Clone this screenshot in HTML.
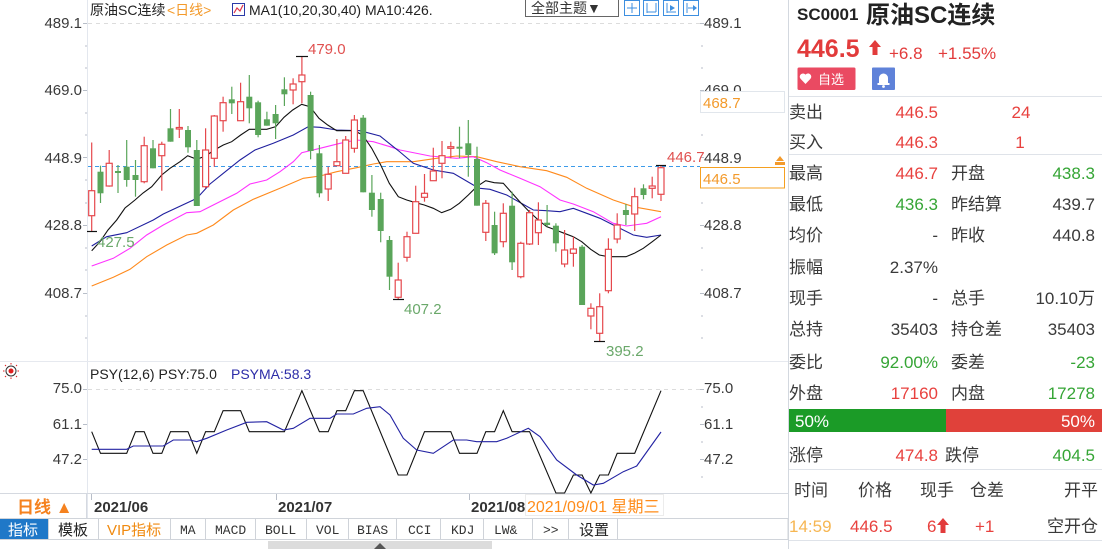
<!DOCTYPE html>
<html><head><meta charset="utf-8">
<style>
html,body{margin:0;padding:0;background:#fff;}
body{width:1107px;height:549px;overflow:hidden;position:relative;}
svg{position:absolute;left:0;top:0;}
text{font-family:"Liberation Sans","Noto Sans CJK SC",sans-serif;}
</style></head>
<body>
<svg width="1107" height="549" viewBox="0 0 1107 549" xmlns="http://www.w3.org/2000/svg">
<!-- structural lines -->
<line x1="87.5" y1="0" x2="87.5" y2="518" stroke="#e3e7ee"/>
<line x1="0" y1="361.5" x2="788" y2="361.5" stroke="#e6e9ef"/>
<line x1="0" y1="493.5" x2="788" y2="493.5" stroke="#d5d9e0"/>
<line x1="86.5" y1="493" x2="86.5" y2="518" stroke="#d5d9e0"/>
<line x1="788.5" y1="0" x2="788.5" y2="549" stroke="#d3d8df"/>
<!-- dashed grids -->
<line x1="88" y1="23.5" x2="700" y2="23.5" stroke="#dcdcdc" stroke-dasharray="4,4"/>
<line x1="88" y1="389.5" x2="700" y2="389.5" stroke="#dcdcdc" stroke-dasharray="4,4"/>
<!-- axis ticks -->
<g stroke="#b8bec8">
<line x1="83" y1="23.5" x2="87" y2="23.5"/><line x1="83" y1="90.5" x2="87" y2="90.5"/><line x1="83" y1="157.5" x2="87" y2="157.5"/><line x1="83" y1="225.5" x2="87" y2="225.5"/><line x1="83" y1="293.5" x2="87" y2="293.5"/>
<line x1="85" y1="46" x2="87" y2="46"/><line x1="85" y1="68" x2="87" y2="68"/><line x1="85" y1="113" x2="87" y2="113"/><line x1="85" y1="135" x2="87" y2="135"/><line x1="85" y1="180" x2="87" y2="180"/><line x1="85" y1="203" x2="87" y2="203"/><line x1="85" y1="248" x2="87" y2="248"/><line x1="85" y1="270" x2="87" y2="270"/><line x1="85" y1="316" x2="87" y2="316"/><line x1="85" y1="338" x2="87" y2="338"/>
<line x1="700" y1="23.5" x2="704" y2="23.5"/><line x1="700" y1="90.5" x2="704" y2="90.5"/><line x1="700" y1="157.5" x2="704" y2="157.5"/><line x1="700" y1="225.5" x2="704" y2="225.5"/><line x1="700" y1="293.5" x2="704" y2="293.5"/>
<line x1="701" y1="46" x2="703" y2="46"/><line x1="701" y1="68" x2="703" y2="68"/><line x1="701" y1="135" x2="703" y2="135"/><line x1="701" y1="203" x2="703" y2="203"/><line x1="701" y1="248" x2="703" y2="248"/><line x1="701" y1="270" x2="703" y2="270"/><line x1="701" y1="316" x2="703" y2="316"/><line x1="701" y1="338" x2="703" y2="338"/>
<line x1="83" y1="389.5" x2="87" y2="389.5"/><line x1="83" y1="424.5" x2="87" y2="424.5"/><line x1="83" y1="459.5" x2="87" y2="459.5"/>
<line x1="700" y1="389.5" x2="704" y2="389.5"/><line x1="700" y1="424.5" x2="704" y2="424.5"/><line x1="700" y1="459.5" x2="704" y2="459.5"/>
<line x1="701" y1="407" x2="703" y2="407"/><line x1="701" y1="442" x2="703" y2="442"/><line x1="701" y1="477" x2="703" y2="477"/>
<line x1="91.5" y1="494" x2="91.5" y2="500"/><line x1="276.5" y1="494" x2="276.5" y2="500"/><line x1="469.5" y1="494" x2="469.5" y2="500"/>
</g>

<!-- header -->
<text x="90" y="15" font-size="14" fill="#222">原油SC连续</text>
<text x="167" y="15" font-size="14" fill="#f39a2b">&lt;日线&gt;</text>
<rect x="232.5" y="3.5" width="12" height="12" fill="#fff" stroke="#2b3aa8"/>
<polyline points="234,13 237,8 240,11 243,5" fill="none" stroke="#e0344a" stroke-width="1.2"/>
<text x="249" y="15" font-size="14" fill="#222">MA1(10,20,30,40) MA10:426.</text>
<rect x="525.5" y="-1.5" width="93" height="18" fill="#fff" stroke="#666"/>
<text x="531" y="13" font-size="14" fill="#333">全部主题▼</text>
<g fill="#fff" stroke="#3d8fe0">
<rect x="624.5" y="0.5" width="15" height="15"/><rect x="643.5" y="0.5" width="15" height="15"/><rect x="663.5" y="0.5" width="15" height="15"/><rect x="683.5" y="0.5" width="15" height="15"/>
</g>
<g stroke="#3d8fe0" fill="none">
<line x1="632" y1="3" x2="632" y2="13"/><line x1="627" y1="8" x2="637" y2="8"/>
<line x1="647" y1="3" x2="647" y2="13"/><line x1="647" y1="12" x2="656" y2="12"/><line x1="656" y1="3" x2="656" y2="12"/>
<line x1="667" y1="3" x2="667" y2="13"/><line x1="667" y1="12" x2="676" y2="12"/>
<line x1="687" y1="3" x2="687" y2="13"/><line x1="688" y1="8" x2="696" y2="8"/>
</g>
<polygon points="670,5 675,8 670,11" fill="#3d8fe0"/><polygon points="693,5 697,8 693,11" fill="#3d8fe0"/>

<!-- left axis labels -->
<g font-size="15" fill="#3a3a3a" text-anchor="end">
<text x="82" y="28">489.1</text><text x="82" y="95">469.0</text><text x="82" y="163">448.9</text><text x="82" y="230">428.8</text><text x="82" y="298">408.7</text>
<text x="82" y="393">75.0</text><text x="82" y="429">61.1</text><text x="82" y="464">47.2</text>
</g>
<!-- right axis labels -->
<g font-size="15" fill="#3a3a3a">
<text x="704" y="28">489.1</text><text x="704" y="95">469.0</text><text x="704" y="163">448.9</text><text x="704" y="230">428.8</text><text x="704" y="298">408.7</text>
<text x="704" y="393">75.0</text><text x="704" y="429">61.1</text><text x="704" y="464">47.2</text>
</g>
<rect x="700.5" y="91.5" width="84" height="21" fill="#fff" stroke="#e1e6ec"/>
<text x="703" y="108" font-size="15" fill="#f39a2b">468.7</text>
<rect x="700.5" y="167.5" width="84" height="20.5" fill="#fff" stroke="#f5a020"/>
<text x="703" y="184" font-size="15" fill="#f39a2b">446.5</text>
<polygon points="780,156 784,161 776,161" fill="#f39a2b"/><rect x="775" y="162" width="10" height="3" fill="#f39a2b"/>

<!-- current price dashed -->
<line x1="88" y1="166.5" x2="700" y2="166.5" stroke="#3d9be9" stroke-dasharray="4,3"/>

<!-- MA lines -->
<polyline fill="none" stroke="#ff8a1c" stroke-width="1.1" points="91.7,286 113.3,277.3 130,269.3 146.7,256.7 166.7,245 186.7,235 196.7,233.3 213.3,225 233.3,210 253.3,199.3 280,188.3 303.3,178.3 320,176 336.7,171.7 356.7,167.7 373.3,164 386.7,161.7 413.3,161.7 436.7,158.3 456.7,156 476.7,156.7 496.7,161.7 520,166.7 546.7,170.7 566.7,177.3 586.7,188.3 613.3,200 633.3,206.7 661,211.7"/>
<polyline fill="none" stroke="#ff33ff" stroke-width="1.1" points="91.7,266 113.3,258.3 130,248.3 146.7,235 163.3,225 186.7,212.7 200,211.7 213.3,205 236.7,193.3 250,184 266.7,180 280,171.7 293.3,161.7 301.7,152.7 320,148.3 340,143.3 356.7,140 373.3,141.7 390,146.7 400,150 430,156 456.7,158.3 473.3,156.7 486.7,162.7 500,170 520,178.3 540,186.7 560,200 573.3,204 593.3,211.7 613.3,223.3 626.7,226 646.7,223.3 661,216.7"/>
<polyline fill="none" stroke="#1f1f9e" stroke-width="1.1" points="91.7,246 106.7,236.7 126.7,232.7 153.3,220 163.3,214 193.3,200 198.3,196.7 210,184 223.3,173.3 240,160 255,150 273.3,143.3 293.3,135 308.3,126.7 320,127.3 336.7,130 360,130.7 380,136 393.3,146.7 400,152 413.3,163.3 433.3,170 453.3,173.3 473.3,185 480,188.3 490,189.3 506.7,195 533.3,210 546.7,210.7 560,211.7 573.3,208.3 586.7,213.3 600,218.3 613.3,225 633.3,235 646.7,237.3 661,235"/>
<polyline fill="none" stroke="#111" stroke-width="1.1" points="91.7,250.7 100,241.7 108,230 116.7,220 125,208 135,200 143,193 151.7,186.7 161.7,175 170,168.3 180,161.7 187.7,155.7 196.7,159.3 205.7,156 214.3,150 223.3,145 231.7,141.7 240.7,135 249.3,129.3 258.3,129.3 266.7,129.3 275.7,126.7 284,117.3 292.7,110 301.7,104.3 310,106.7 319,118.3 327.7,125 336.7,130.7 345.7,130.7 354.3,130.7 362.7,135 371.7,148.3 380.7,165 389.3,183.3 398.3,196.7 406.7,200 415.7,202.7 424.3,205 433.3,208.3 441.7,212.7 450.7,209.3 459.3,203.3 468.3,195 476.7,186.7 485.7,180.7 494.3,182.7 503.3,183.3 511.7,192.7 520.7,202.7 529.3,211.7 538.3,220 546.7,226.7 555.7,230 564.3,233.3 573.3,236.7 581.7,241.7 590.7,249.3 599.3,255 608.3,256.7 617.3,256.7 626,256.7 634.3,253.3 643.3,248.3 652.3,241.7 661,235"/>

<!-- green wicks -->
<g stroke="#5aa55a" stroke-width="1.2">
<line x1="100.5" y1="165.7" x2="100.5" y2="203"/><line x1="118" y1="165" x2="118" y2="193"/><line x1="126.7" y1="140" x2="126.7" y2="186.7"/><line x1="135.5" y1="160" x2="135.5" y2="196.7"/><line x1="153" y1="140" x2="153" y2="168.3"/><line x1="170.5" y1="109" x2="170.5" y2="141.7"/><line x1="188" y1="126" x2="188" y2="152.7"/><line x1="196.8" y1="140" x2="196.8" y2="206"/><line x1="231.8" y1="86.7" x2="231.8" y2="114"/><line x1="249.3" y1="75" x2="249.3" y2="123.3"/><line x1="258.1" y1="100.7" x2="258.1" y2="137.3"/><line x1="266.9" y1="111.7" x2="266.9" y2="125.7"/><line x1="275.6" y1="105" x2="275.6" y2="139"/><line x1="284.4" y1="77.3" x2="284.4" y2="106"/><line x1="310.6" y1="91.7" x2="310.6" y2="159.3"/><line x1="319.4" y1="145" x2="319.4" y2="197.3"/><line x1="363.2" y1="115" x2="363.2" y2="192.3"/><line x1="371.9" y1="175" x2="371.9" y2="216.7"/><line x1="380.7" y1="192.7" x2="380.7" y2="242.3"/><line x1="389.5" y1="236" x2="389.5" y2="290"/><line x1="459.5" y1="126.7" x2="459.5" y2="158.3"/><line x1="468.3" y1="120" x2="468.3" y2="176.7"/><line x1="477" y1="146.7" x2="477" y2="205.7"/><line x1="494.6" y1="211.7" x2="494.6" y2="255"/><line x1="512.1" y1="191.7" x2="512.1" y2="270"/><line x1="547.1" y1="205" x2="547.1" y2="226.7"/><line x1="555.9" y1="223.3" x2="555.9" y2="251.7"/><line x1="582.1" y1="245" x2="582.1" y2="305"/><line x1="625.9" y1="204" x2="625.9" y2="225"/><line x1="643.5" y1="184.3" x2="643.5" y2="199.3"/>
</g>
<g fill="#5aa55a">
<rect x="97.5" y="171.7" width="6" height="21.6"/><rect x="115" y="171" width="6" height="2"/><rect x="123.7" y="166.7" width="6" height="13.3"/><rect x="132.5" y="175" width="6" height="5"/><rect x="150" y="148.3" width="6" height="20"/><rect x="167.5" y="128.3" width="6" height="13.4"/><rect x="185" y="130" width="6" height="17.3"/><rect x="193.8" y="150" width="6" height="56"/><rect x="228.8" y="99.3" width="6" height="4"/><rect x="246.3" y="96.7" width="6" height="11.6"/><rect x="255.1" y="102.3" width="6" height="32.7"/><rect x="263.9" y="119.3" width="6" height="6.4"/><rect x="272.6" y="114" width="6" height="9.3"/><rect x="281.4" y="89.3" width="6" height="5"/><rect x="307.6" y="95" width="6" height="56"/><rect x="316.4" y="153.3" width="6" height="40"/><rect x="360.2" y="117.7" width="6" height="74.6"/><rect x="368.9" y="192.7" width="6" height="17.3"/><rect x="377.7" y="199" width="6" height="32"/><rect x="386.5" y="240" width="6" height="36.7"/><rect x="456.5" y="146.7" width="6" height="2"/><rect x="465.3" y="143.3" width="6" height="11.7"/><rect x="474" y="159" width="6" height="46.7"/><rect x="491.6" y="225" width="6" height="28.3"/><rect x="509.1" y="205.7" width="6" height="56.6"/><rect x="544.1" y="222.7" width="6" height="2.3"/><rect x="552.9" y="225.7" width="6" height="17.6"/><rect x="579.1" y="246.7" width="6" height="58.3"/><rect x="622.9" y="210" width="6" height="5"/><rect x="640.5" y="188.3" width="6" height="6.7"/>
</g>
<!-- red wicks -->
<g stroke="#e5484d" stroke-width="1.2">
<line x1="91.7" y1="142.5" x2="91.7" y2="231"/><line x1="109.2" y1="150" x2="109.2" y2="186.7"/><line x1="144.2" y1="136.7" x2="144.2" y2="183.3"/><line x1="161.8" y1="141.7" x2="161.8" y2="190.7"/><line x1="179.3" y1="109" x2="179.3" y2="138"/><line x1="205.6" y1="128.3" x2="205.6" y2="188.3"/><line x1="214.3" y1="115" x2="214.3" y2="166.7"/><line x1="223.1" y1="96.7" x2="223.1" y2="131.7"/><line x1="240.6" y1="82.7" x2="240.6" y2="120.7"/><line x1="293.1" y1="78.3" x2="293.1" y2="104.3"/><line x1="301.9" y1="56.7" x2="301.9" y2="103.3"/><line x1="328.2" y1="166.7" x2="328.2" y2="201"/><line x1="336.9" y1="139" x2="336.9" y2="165.7"/><line x1="345.7" y1="136" x2="345.7" y2="173.3"/><line x1="354.4" y1="115" x2="354.4" y2="152.7"/><line x1="398.2" y1="262.7" x2="398.2" y2="299.3"/><line x1="407" y1="231.7" x2="407" y2="261.7"/><line x1="415.7" y1="185.7" x2="415.7" y2="233.3"/><line x1="424.5" y1="174" x2="424.5" y2="201.7"/><line x1="433.3" y1="147.7" x2="433.3" y2="180.7"/><line x1="442" y1="141" x2="442" y2="178.3"/><line x1="450.8" y1="141.7" x2="450.8" y2="158.3"/><line x1="485.8" y1="200" x2="485.8" y2="241"/><line x1="503.3" y1="203.3" x2="503.3" y2="247.3"/><line x1="520.8" y1="241.7" x2="520.8" y2="278.3"/><line x1="529.6" y1="210" x2="529.6" y2="245"/><line x1="538.4" y1="202.3" x2="538.4" y2="245"/><line x1="564.6" y1="230" x2="564.6" y2="267.3"/><line x1="573.4" y1="236.7" x2="573.4" y2="266.7"/><line x1="590.9" y1="303.3" x2="590.9" y2="329.3"/><line x1="599.7" y1="293.3" x2="599.7" y2="341"/><line x1="608.4" y1="238.3" x2="608.4" y2="293.3"/><line x1="617.2" y1="213.3" x2="617.2" y2="243.3"/><line x1="634.7" y1="187.7" x2="634.7" y2="231"/><line x1="652.2" y1="176.7" x2="652.2" y2="198.3"/><line x1="661" y1="165.7" x2="661" y2="201"/>
</g>
<g fill="#fff" stroke="#e5484d" stroke-width="1.2">
<rect x="88.7" y="190.7" width="6" height="25"/><rect x="106.2" y="163.3" width="6" height="22.7"/><rect x="141.2" y="145.7" width="6" height="36"/><rect x="158.8" y="144.3" width="6" height="11.4"/><rect x="176.3" y="127.5" width="6" height="1.5"/><rect x="202.6" y="150" width="6" height="36.7"/><rect x="211.3" y="116" width="6" height="42.3"/><rect x="220.1" y="102.7" width="6" height="18"/><rect x="237.6" y="101.7" width="6" height="19"/><rect x="290.1" y="84" width="6" height="6"/><rect x="298.9" y="75" width="6" height="6.7"/><rect x="325.2" y="174.3" width="6" height="14.7"/><rect x="333.9" y="161.7" width="6" height="4"/><rect x="342.7" y="140" width="6" height="33.3"/><rect x="351.4" y="120" width="6" height="28.3"/><rect x="395.2" y="280" width="6" height="17.3"/><rect x="404" y="236.7" width="6" height="20.6"/><rect x="412.7" y="201.7" width="6" height="31.6"/><rect x="421.5" y="193.3" width="6" height="4"/><rect x="430.3" y="171" width="6" height="9.7"/><rect x="439" y="155.7" width="6" height="7.6"/><rect x="447.8" y="146.7" width="6" height="1.6"/><rect x="482.8" y="203.3" width="6" height="29"/><rect x="500.3" y="213.3" width="6" height="28.4"/><rect x="517.8" y="243.3" width="6" height="33.4"/><rect x="526.6" y="212.7" width="6" height="31.3"/><rect x="535.4" y="220" width="6" height="12.7"/><rect x="561.6" y="250" width="6" height="14"/><rect x="570.4" y="249" width="6" height="4.3"/><rect x="587.9" y="308.3" width="6" height="7.7"/><rect x="596.7" y="306.7" width="6" height="26.6"/><rect x="605.4" y="249.3" width="6" height="41.4"/><rect x="614.2" y="225" width="6" height="14"/><rect x="631.7" y="196.7" width="6" height="17.3"/><rect x="649.2" y="186" width="6" height="2.3"/><rect x="658" y="167.7" width="6" height="26.6"/>
</g>
<!-- extreme markers -->
<g stroke="#111" stroke-width="1.2">
<line x1="87" y1="231.5" x2="97" y2="231.5"/><line x1="296" y1="56.5" x2="308" y2="56.5"/><line x1="393" y1="299.5" x2="404" y2="299.5"/><line x1="594" y1="341.5" x2="605" y2="341.5"/><line x1="656" y1="165.5" x2="666" y2="165.5"/>
</g>
<g font-size="15">
<text x="97" y="247" fill="#6aa86a">427.5</text>
<text x="308" y="54" fill="#e0504f">479.0</text>
<text x="404" y="314" fill="#6aa86a">407.2</text>
<text x="606" y="356" fill="#6aa86a">395.2</text>
<text x="667" y="162" fill="#e0504f">446.7</text>
</g>

<!-- PSY panel -->
<circle cx="11" cy="371" r="5" fill="none" stroke="#333" stroke-width="1"/>
<circle cx="11" cy="371" r="2.5" fill="#e02020"/>
<g stroke="#e02020" stroke-width="1"><line x1="11" y1="363" x2="11" y2="364.5"/><line x1="11" y1="377.5" x2="11" y2="379"/><line x1="3" y1="371" x2="4.5" y2="371"/><line x1="17.5" y1="371" x2="19" y2="371"/><line x1="5" y1="365" x2="6" y2="366"/><line x1="16" y1="376" x2="17" y2="377"/><line x1="17" y1="365" x2="16" y2="366"/><line x1="5" y1="377" x2="6" y2="376"/></g>
<text x="90" y="379" font-size="14" fill="#222">PSY(12,6) PSY:75.0</text>
<text x="231" y="379" font-size="14" fill="#2c2ca8">PSYMA:58.3</text>
<polyline fill="none" stroke="#111" stroke-width="1.1" points="91.7,431.7 100.5,453.3 126.7,453.3 135.5,431.7 144.2,431.7 153,453.3 161.8,453.3 170.5,431.7 188,431.7 196.8,453.3 205.6,431.7 214.3,431.7 223.1,410.7 240.6,410.7 249.3,431.7 284.4,431.7 301.9,390.7 319.4,431.7 328.2,431.7 336.9,410.7 345.7,410.7 354.4,390.7 363.2,390.7 398.2,475 407,475 424.5,431.7 450.8,431.7 459.5,453.3 477,453.3 485.8,431.7 494.6,431.7 503.3,410.7 512.1,431.7 529.6,431.7 555.9,493 564.6,493 573.4,475 582.1,475 590.9,493 599.7,475 608.4,475 617.2,453.3 634.7,453.3 661,390.7"/>
<polyline fill="none" stroke="#2323a3" stroke-width="1.1" points="91.7,449.3 126.7,449.3 133.3,446 163.3,446 173.3,440 190,440 196.7,441.7 206.7,438.3 226.7,430 246.7,422.3 266.7,421.7 283.3,430 293.3,428.3 310,418.3 330,418.3 336.7,414 353.3,414 366.7,408.3 380,406.7 390,415 403.3,438.3 416.7,450 433.3,453.3 453.3,440 466.7,440 476.7,441.7 496.7,441.7 506.7,438.3 528.3,428.3 540,436.7 556.7,460 576.7,475 593.3,485 603.3,483.3 623.3,471.7 636.7,466 661,432"/>

<!-- date bar -->
<text x="17" y="513" font-size="17" font-weight="bold" fill="#f5821f">日线 ▲</text>
<g font-size="15" font-weight="bold" fill="#333">
<text x="94" y="512">2021/06</text><text x="278" y="512">2021/07</text><text x="471" y="512">2021/08</text>
</g>
<rect x="525.5" y="494.5" width="138" height="21" fill="#fff" stroke="#ececec"/>
<text x="527" y="512" font-size="16" fill="#ff8c1a">2021/09/01 星期三</text>

<!-- tabs -->
<rect x="0" y="518.5" width="788" height="21" fill="#fff" stroke="#d0d4da"/>
<rect x="0" y="519" width="48" height="20" fill="#1f78c8"/>
<g stroke="#cfd3d9">
<line x1="48.5" y1="519" x2="48.5" y2="539"/><line x1="98.5" y1="519" x2="98.5" y2="539"/><line x1="170.5" y1="519" x2="170.5" y2="539"/><line x1="205.5" y1="519" x2="205.5" y2="539"/><line x1="255.5" y1="519" x2="255.5" y2="539"/><line x1="306.5" y1="519" x2="306.5" y2="539"/><line x1="348.5" y1="519" x2="348.5" y2="539"/><line x1="396.5" y1="519" x2="396.5" y2="539"/><line x1="440.5" y1="519" x2="440.5" y2="539"/><line x1="483.5" y1="519" x2="483.5" y2="539"/><line x1="532.5" y1="519" x2="532.5" y2="539"/><line x1="568.5" y1="519" x2="568.5" y2="539"/><line x1="617.5" y1="519" x2="617.5" y2="539"/>
</g>
<text x="8" y="535" font-size="15" fill="#fff">指标</text>
<text x="58" y="535" font-size="15" fill="#222">模板</text>
<text x="107" y="535" font-size="15" fill="#f08a10">VIP指标</text>
<g font-family="Liberation Mono" font-size="13" fill="#333">
<text x="180" y="534" style="font-family:'Liberation Mono',monospace">MA</text>
<text x="215" y="534" style="font-family:'Liberation Mono',monospace">MACD</text>
<text x="265" y="534" style="font-family:'Liberation Mono',monospace">BOLL</text>
<text x="316" y="534" style="font-family:'Liberation Mono',monospace">VOL</text>
<text x="357" y="534" style="font-family:'Liberation Mono',monospace">BIAS</text>
<text x="408" y="534" style="font-family:'Liberation Mono',monospace">CCI</text>
<text x="451" y="534" style="font-family:'Liberation Mono',monospace">KDJ</text>
<text x="494" y="534" style="font-family:'Liberation Mono',monospace">LW&amp;</text>
<text x="543" y="534" style="font-family:'Liberation Mono',monospace">&gt;&gt;</text>
</g>
<text x="579" y="535" font-size="15" fill="#222">设置</text>
<rect x="268" y="541" width="224" height="8" fill="#dcdcdc"/>
<polygon points="380,543 386,549 374,549" fill="#555"/>

<!-- right panel -->
<text x="797" y="20" font-size="17" font-weight="bold" fill="#222">SC0001</text>
<text x="866" y="23" font-size="24" font-weight="bold" fill="#222">原油SC连续</text>
<text x="797" y="57" font-size="25" font-weight="bold" fill="#e23b3b">446.5</text>
<polygon points="875,40 881,47 877.5,47 877.5,55 872.5,55 872.5,47 869,47" fill="#e23b3b"/>
<text x="889" y="59" font-size="17" fill="#e23b3b">+6.8</text>
<text x="938" y="59" font-size="17" fill="#e23b3b">+1.55%</text>
<rect x="797.5" y="67.5" width="58" height="22.5" rx="1.5" fill="#ea4a62"/>
<path d="M805.5,84 L800.5,78.8 A2.8,2.8 0 0 1 805.5,74.6 A2.8,2.8 0 0 1 810.5,78.8 Z" fill="#fff"/>
<text x="818" y="84" font-size="13" fill="#fff">自选</text>
<rect x="872" y="67.5" width="23" height="22.5" rx="1" fill="#5f82d9"/>
<path d="M879,84 L879,78 A4.5,4.5 0 0 1 888,78 L888,84 Z" fill="#fff"/><rect x="877.5" y="83" width="12" height="2" fill="#fff"/><circle cx="883.5" cy="86.5" r="1.4" fill="#fff"/>
<g stroke="#dfe3e9"><line x1="789" y1="96.5" x2="1102" y2="96.5"/><line x1="789" y1="154.5" x2="1102" y2="154.5"/><line x1="789" y1="469.5" x2="1102" y2="469.5"/><line x1="789" y1="540.5" x2="1102" y2="540.5"/></g>

<g font-size="17" fill="#3a3a3a">
<text x="789" y="118">卖出</text><text x="789" y="148">买入</text>
<text x="789" y="179">最高</text><text x="789" y="210">最低</text><text x="789" y="241">均价</text><text x="789" y="273">振幅</text><text x="789" y="304">现手</text><text x="789" y="335">总持</text><text x="789" y="368">委比</text><text x="789" y="399">外盘</text><text x="789" y="461">涨停</text>
<text x="951" y="179">开盘</text><text x="951" y="210">昨结算</text><text x="951" y="241">昨收</text><text x="951" y="304">总手</text><text x="951" y="335">持仓差</text><text x="951" y="368">委差</text><text x="951" y="399">内盘</text><text x="945" y="461">跌停</text>
</g>
<g font-size="17" text-anchor="end">
<text x="938" y="118" fill="#e8413e">446.5</text><text x="938" y="148" fill="#e8413e">446.3</text>
<text x="938" y="179" fill="#e8413e">446.7</text><text x="938" y="210" fill="#35a535">436.3</text><text x="938" y="241" fill="#3a3a3a">-</text><text x="938" y="273" fill="#3a3a3a">2.37%</text><text x="938" y="304" fill="#3a3a3a">-</text><text x="938" y="335" fill="#3a3a3a">35403</text><text x="938" y="368" fill="#35a535">92.00%</text><text x="938" y="399" fill="#e8413e">17160</text><text x="938" y="461" fill="#e8413e">474.8</text>
<text x="1095" y="179" fill="#35a535">438.3</text><text x="1095" y="210" fill="#3a3a3a">439.7</text><text x="1095" y="241" fill="#3a3a3a">440.8</text><text x="1095" y="304" fill="#3a3a3a">10.10万</text><text x="1095" y="335" fill="#3a3a3a">35403</text><text x="1095" y="368" fill="#35a535">-23</text><text x="1095" y="399" fill="#35a535">17278</text><text x="1095" y="461" fill="#35a535">404.5</text>
</g>
<text x="1021" y="118" font-size="17" fill="#e8413e" text-anchor="middle">24</text>
<text x="1020" y="148" font-size="17" fill="#e8413e" text-anchor="middle">1</text>

<rect x="789" y="409" width="157" height="23" fill="#1b9b27"/>
<rect x="946" y="409" width="156" height="23" fill="#e0413a"/>
<text x="795" y="427" font-size="17" fill="#fff">50%</text>
<text x="1095" y="427" font-size="17" fill="#fff" text-anchor="end">50%</text>

<g font-size="17" fill="#3a3a3a">
<text x="794" y="496">时间</text><text x="858" y="496">价格</text><text x="920" y="496">现手</text><text x="970" y="496">仓差</text><text x="1098" y="496" text-anchor="end">开平</text>
</g>
<text x="789" y="532" font-size="17" fill="#f6b652">14:59</text>
<text x="850" y="532" font-size="17" fill="#e8413e">446.5</text>
<text x="927" y="532" font-size="17" fill="#e8413e">6</text>
<polygon points="943,518 949,525 945.5,525 945.5,533 940.5,533 940.5,525 937,525" fill="#e23b3b"/>
<text x="975" y="532" font-size="17" fill="#e8413e">+1</text>
<text x="1098" y="532" font-size="17" fill="#3a3a3a" text-anchor="end">空开仓</text>
</svg>
</body></html>
